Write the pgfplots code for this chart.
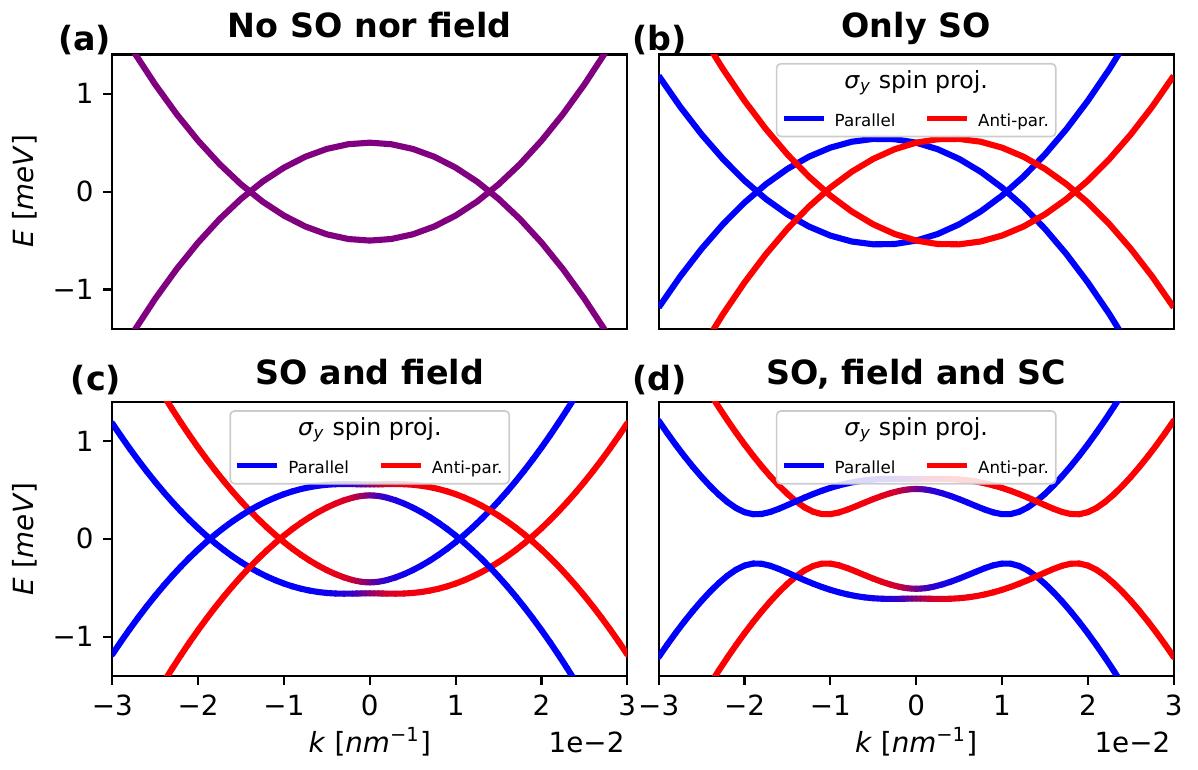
\documentclass[border=0pt]{standalone}
\usepackage{fontspec}
\setmainfont{DejaVu Sans}
\usepackage{pgfplots}
\pgfplotsset{compat=1.18}
\usepackage{pgfplotstable}
\definecolor{mplpurple}{rgb}{0.5,0,0.5}

\pgfplotstableread{
k g ng fb nfb fr nfr
-3.00 1.7950 -1.7950 1.1830 -1.1830 2.4070 -2.4070
-2.75 1.4284 -1.4284 0.8674 -0.8674 1.9894 -1.9894
-2.50 1.0938 -1.0938 0.5838 -0.5838 1.6038 -1.6038
-2.25 0.7909 -0.7909 0.3319 -0.3319 1.2499 -1.2499
-2.00 0.5200 -0.5200 0.1120 -0.1120 0.9280 -0.9280
-1.75 0.2809 -0.2809 -0.0761 0.0761 0.6379 -0.6379
-1.50 0.0738 -0.0738 -0.2323 0.2323 0.3798 -0.3798
-1.25 -0.1016 0.1016 -0.3566 0.3566 0.1534 -0.1534
-1.00 -0.2450 0.2450 -0.4490 0.4490 -0.0410 0.0410
-0.75 -0.3566 0.3566 -0.5096 0.5096 -0.2036 0.2036
-0.50 -0.4363 0.4363 -0.5383 0.5383 -0.3343 0.3343
-0.25 -0.4841 0.4841 -0.5351 0.5351 -0.4331 0.4331
0.00 -0.5000 0.5000 -0.5000 0.5000 -0.5000 0.5000
0.25 -0.4841 0.4841 -0.4331 0.4331 -0.5351 0.5351
0.50 -0.4363 0.4363 -0.3343 0.3343 -0.5383 0.5383
0.75 -0.3566 0.3566 -0.2036 0.2036 -0.5096 0.5096
1.00 -0.2450 0.2450 -0.0410 0.0410 -0.4490 0.4490
1.25 -0.1016 0.1016 0.1534 -0.1534 -0.3566 0.3566
1.50 0.0738 -0.0738 0.3798 -0.3798 -0.2323 0.2323
1.75 0.2809 -0.2809 0.6379 -0.6379 -0.0761 0.0761
2.00 0.5200 -0.5200 0.9280 -0.9280 0.1120 -0.1120
2.25 0.7909 -0.7909 1.2499 -1.2499 0.3319 -0.3319
2.50 1.0938 -1.0938 1.6038 -1.6038 0.5838 -0.5838
2.75 1.4284 -1.4284 1.9894 -1.9894 0.8674 -0.8674
3.00 1.7950 -1.7950 2.4070 -2.4070 1.1830 -1.1830
}\tab

\pgfplotstableread{
k cP cM ncP ncM dP dM ndP ndM mp mm
-3.0 2.4096 1.1804 -2.4096 -1.1804 2.4225 1.2066 -2.4225 -1.2066 -0.9958 0.9958
-2.9 2.2388 1.0503 -2.2388 -1.0503 2.2527 1.0797 -2.2527 -1.0797 -0.9955 0.9955
-2.8 2.0731 0.9253 -2.0731 -0.9253 2.0882 0.9584 -2.0882 -0.9584 -0.9952 0.9952
-2.7 1.9126 0.8053 -1.9126 -0.8053 1.9289 0.8432 -1.9289 -0.8432 -0.9949 0.9949
-2.6 1.7572 0.6905 -1.7572 -0.6905 1.7749 0.7343 -1.7749 -0.7343 -0.9945 0.9945
-2.5 1.6068 0.5807 -1.6068 -0.5807 1.6262 0.6322 -1.6262 -0.6322 -0.9940 0.9940
-2.4 1.4616 0.4760 -1.4616 -0.4760 1.4828 0.5377 -1.4828 -0.5377 -0.9935 0.9935
-2.3 1.3215 0.3764 -1.3215 -0.3764 1.3449 0.4519 -1.3449 -0.4519 -0.9930 0.9930
-2.2 1.1865 0.2819 -1.1865 -0.2819 1.2125 0.3768 -1.2125 -0.3768 -0.9923 0.9923
-2.1 1.0566 0.1925 -1.0566 -0.1925 1.0858 0.3155 -1.0858 -0.3155 -0.9916 0.9916
-2.0 0.9318 0.1082 -0.9318 -0.1082 0.9648 0.2724 -0.9648 -0.2724 -0.9907 0.9907
-1.9 0.8122 0.0289 -0.8122 -0.0289 0.8498 0.2517 -0.8498 -0.2517 -0.9897 0.9897
-1.8 0.6977 -0.0453 -0.6977 0.0453 0.7411 0.2541 -0.7411 -0.2541 -0.9886 0.9886
-1.7 0.5882 -0.1143 -0.5882 0.1143 0.6392 0.2749 -0.6392 -0.2749 -0.9872 0.9872
-1.6 0.4840 -0.1784 -0.4840 0.1784 0.5447 0.3071 -0.5447 -0.3071 -0.9856 0.9856
-1.5 0.3848 -0.2373 -0.3848 0.2373 0.4589 0.3447 -0.4589 -0.3447 -0.9837 0.9837
-1.4 0.2908 -0.2912 -0.2908 0.2912 0.3835 0.3838 -0.3835 -0.3838 -0.9813 0.9813
-1.3 0.2020 -0.3401 -0.2020 0.3401 0.3214 0.4221 -0.3214 -0.4221 -0.9784 0.9784
-1.2 0.1183 -0.3839 -0.1183 0.3839 0.2766 0.4581 -0.2766 -0.4581 -0.9748 0.9748
-1.1 0.0398 -0.4227 -0.0398 0.4227 0.2532 0.4911 -0.2532 -0.4911 -0.9702 0.9702
-1.0 -0.0335 -0.4566 0.0335 0.4566 0.2522 0.5205 -0.2522 -0.5205 -0.9643 0.9643
-0.9 -0.1015 -0.4854 0.1015 0.4854 0.2698 0.5460 -0.2698 -0.5460 -0.9565 0.9565
-0.8 -0.1643 -0.5093 0.1643 0.5093 0.2991 0.5674 -0.2991 -0.5674 -0.9459 0.9459
-0.7 -0.2217 -0.5284 0.2217 0.5284 0.3341 0.5846 -0.3341 -0.5846 -0.9310 0.9310
-0.6 -0.2736 -0.5428 0.2736 0.5428 0.3706 0.5976 -0.3706 -0.5976 -0.9093 0.9093
-0.5 -0.3199 -0.5526 0.3199 0.5526 0.4060 0.6065 -0.4060 -0.6065 -0.8766 0.8766
-0.4 -0.3602 -0.5582 0.3602 0.5582 0.4385 0.6116 -0.4385 -0.6116 -0.8245 0.8245
-0.3 -0.3941 -0.5600 0.3941 0.5600 0.4667 0.6133 -0.4667 -0.6133 -0.7377 0.7377
-0.2 -0.4205 -0.5591 0.4205 0.5591 0.4892 0.6124 -0.4892 -0.6124 -0.5889 0.5889
-0.15 -0.4305 -0.5581 0.4305 0.5581 0.4978 0.6115 -0.4978 -0.6115 -0.4795 0.4795
-0.1 -0.4379 -0.5571 0.4379 0.5571 0.5042 0.6106 -0.5042 -0.6106 -0.3423 0.3423
-0.05 -0.4424 -0.5563 0.4424 0.5563 0.5082 0.6099 -0.5082 -0.6099 -0.1792 0.1792
0.0 -0.4440 -0.5560 0.4440 0.5560 0.5095 0.6096 -0.5095 -0.6096 0.0 0.0
0.05 -0.4424 -0.5563 0.4424 0.5563 0.5082 0.6099 -0.5082 -0.6099 0.1792 -0.1792
0.1 -0.4379 -0.5571 0.4379 0.5571 0.5042 0.6106 -0.5042 -0.6106 0.3423 -0.3423
0.15 -0.4305 -0.5581 0.4305 0.5581 0.4978 0.6115 -0.4978 -0.6115 0.4795 -0.4795
0.2 -0.4205 -0.5591 0.4205 0.5591 0.4892 0.6124 -0.4892 -0.6124 0.5889 -0.5889
0.3 -0.3941 -0.5600 0.3941 0.5600 0.4667 0.6133 -0.4667 -0.6133 0.7377 -0.7377
0.4 -0.3602 -0.5582 0.3602 0.5582 0.4385 0.6116 -0.4385 -0.6116 0.8245 -0.8245
0.5 -0.3199 -0.5526 0.3199 0.5526 0.4060 0.6065 -0.4060 -0.6065 0.8766 -0.8766
0.6 -0.2736 -0.5428 0.2736 0.5428 0.3706 0.5976 -0.3706 -0.5976 0.9093 -0.9093
0.7 -0.2217 -0.5284 0.2217 0.5284 0.3341 0.5846 -0.3341 -0.5846 0.9310 -0.9310
0.8 -0.1643 -0.5093 0.1643 0.5093 0.2991 0.5674 -0.2991 -0.5674 0.9459 -0.9459
0.9 -0.1015 -0.4854 0.1015 0.4854 0.2698 0.5460 -0.2698 -0.5460 0.9565 -0.9565
1.0 -0.0335 -0.4566 0.0335 0.4566 0.2522 0.5205 -0.2522 -0.5205 0.9643 -0.9643
1.1 0.0398 -0.4227 -0.0398 0.4227 0.2532 0.4911 -0.2532 -0.4911 0.9702 -0.9702
1.2 0.1183 -0.3839 -0.1183 0.3839 0.2766 0.4581 -0.2766 -0.4581 0.9748 -0.9748
1.3 0.2020 -0.3401 -0.2020 0.3401 0.3214 0.4221 -0.3214 -0.4221 0.9784 -0.9784
1.4 0.2908 -0.2912 -0.2908 0.2912 0.3835 0.3838 -0.3835 -0.3838 0.9813 -0.9813
1.5 0.3848 -0.2373 -0.3848 0.2373 0.4589 0.3447 -0.4589 -0.3447 0.9837 -0.9837
1.6 0.4840 -0.1784 -0.4840 0.1784 0.5447 0.3071 -0.5447 -0.3071 0.9856 -0.9856
1.7 0.5882 -0.1143 -0.5882 0.1143 0.6392 0.2749 -0.6392 -0.2749 0.9872 -0.9872
1.8 0.6977 -0.0453 -0.6977 0.0453 0.7411 0.2541 -0.7411 -0.2541 0.9886 -0.9886
1.9 0.8122 0.0289 -0.8122 -0.0289 0.8498 0.2517 -0.8498 -0.2517 0.9897 -0.9897
2.0 0.9318 0.1082 -0.9318 -0.1082 0.9648 0.2724 -0.9648 -0.2724 0.9907 -0.9907
2.1 1.0566 0.1925 -1.0566 -0.1925 1.0858 0.3155 -1.0858 -0.3155 0.9916 -0.9916
2.2 1.1865 0.2819 -1.1865 -0.2819 1.2125 0.3768 -1.2125 -0.3768 0.9923 -0.9923
2.3 1.3215 0.3764 -1.3215 -0.3764 1.3449 0.4519 -1.3449 -0.4519 0.9930 -0.9930
2.4 1.4616 0.4760 -1.4616 -0.4760 1.4828 0.5377 -1.4828 -0.5377 0.9935 -0.9935
2.5 1.6068 0.5807 -1.6068 -0.5807 1.6262 0.6322 -1.6262 -0.6322 0.9940 -0.9940
2.6 1.7572 0.6905 -1.7572 -0.6905 1.7749 0.7343 -1.7749 -0.7343 0.9945 -0.9945
2.7 1.9126 0.8053 -1.9126 -0.8053 1.9289 0.8432 -1.9289 -0.8432 0.9949 -0.9949
2.8 2.0731 0.9253 -2.0731 -0.9253 2.0882 0.9584 -2.0882 -0.9584 0.9952 -0.9952
2.9 2.2388 1.0503 -2.2388 -1.0503 2.2527 1.0797 -2.2527 -1.0797 0.9955 -0.9955
3.0 2.4096 1.1804 -2.4096 -1.1804 2.4225 1.2066 -2.4225 -1.2066 0.9958 -0.9958
}\tcd

\pgfplotsset{
  panel/.style={
    scale only axis, width=185.4pt, height=98.7pt,
    xmin=-3, xmax=3, ymin=-1.4, ymax=1.4,
    axis line style={line width=0.8pt},
    tick style={black, line width=0.8pt},
    major tick length=3.24pt, tick align=outside,
    xtick pos=left, ytick pos=left,
    tick label style={font=\fontsize{10}{12}\selectfont},
    xtick={-3,-2,-1,0,1,2,3}, xticklabels={−3,−2,−1,0,1,2,3},
    ytick={-1,0,1}, yticklabels={−1,0,1},
    colormap={rb}{rgb=(1,0,0) rgb=(0,0,1)},
    point meta min=-1, point meta max=1,
  },
  band/.style={mesh, point meta=explicit, line width=2.2pt, line cap=round, line join=round},
  pline/.style={line width=2.2pt, line join=round},
}

\newcommand{\spinlegend}{%
  \node[draw=black!20, line width=0.6pt, rounded corners=1.5pt, fill=white, fill opacity=0.85, text opacity=1,
        anchor=north, inner xsep=2.5pt, inner ysep=2.5pt, align=center, yshift=-3pt]
    at (rel axis cs:0.5,1)
    {{\fontsize{8.5}{10}\selectfont\textit{σ}\textsubscript{\textit{y}} spin proj.}\\[1.5pt]
     {\fontsize{6}{7}\selectfont\textcolor{blue}{\rule[0.55ex]{14.4pt}{1.8pt}}\hspace{4pt}Parallel\hspace{11.4pt}\textcolor{red}{\rule[0.55ex]{14.4pt}{1.8pt}}\hspace{4pt}Anti-par.}};%
}

\begin{document}
\begin{tikzpicture}
\useasboundingbox (0,0) rectangle (431.28pt,276.84pt);

% (a)
\begin{axis}[panel, at={(40.43pt,158.51pt)}, anchor=south west, xtick=\empty]
\addplot[mplpurple, pline] table[x=k,y=g]{\tab};
\addplot[mplpurple, pline] table[x=k,y=ng]{\tab};
\end{axis}

% (b)
\begin{axis}[panel, at={(237.13pt,158.51pt)}, anchor=south west, xtick=\empty, ytick=\empty]
\addplot[blue, pline] table[x=k,y=fb]{\tab};
\addplot[blue, pline] table[x=k,y=nfb]{\tab};
\addplot[red, pline] table[x=k,y=fr]{\tab};
\addplot[red, pline] table[x=k,y=nfr]{\tab};
\spinlegend
\end{axis}

% (c)
\begin{axis}[panel, at={(40.43pt,33.5pt)}, anchor=south west]
\addplot[band] table[x=k,y=cP,meta=mp]{\tcd};
\addplot[band] table[x=k,y=cM,meta=mm]{\tcd};
\addplot[band] table[x=k,y=ncP,meta=mp]{\tcd};
\addplot[band] table[x=k,y=ncM,meta=mm]{\tcd};
\spinlegend
\end{axis}

% (d)
\begin{axis}[panel, at={(237.13pt,33.5pt)}, anchor=south west, ytick=\empty]
\addplot[band] table[x=k,y=dP,meta=mp]{\tcd};
\addplot[band] table[x=k,y=dM,meta=mm]{\tcd};
\addplot[band] table[x=k,y=ndP,meta=mp]{\tcd};
\addplot[band] table[x=k,y=ndM,meta=mm]{\tcd};
\spinlegend
\end{axis}

% titles
\begin{scope}[every node/.style={inner sep=0pt}]
\node[anchor=base, font=\bfseries\fontsize{12}{14}\selectfont] at (133.13pt,263.5pt) {No SO nor field};
\node[anchor=base, font=\bfseries\fontsize{12}{14}\selectfont] at (329.83pt,263.5pt) {Only SO};
\node[anchor=base, font=\bfseries\fontsize{12}{14}\selectfont] at (133.13pt,138.35pt) {SO and field};
\node[anchor=base, font=\bfseries\fontsize{12}{14}\selectfont] at (329.83pt,138.35pt) {SO, field and SC};
% panel labels
\node[anchor=base east, font=\bfseries\fontsize{12}{14}\selectfont] at (40.2pt,258.5pt) {(a)};
\node[anchor=base west, font=\bfseries\fontsize{12}{14}\selectfont] at (227.5pt,258.5pt) {(b)};
\node[anchor=base east, font=\bfseries\fontsize{12}{14}\selectfont] at (43.8pt,136.1pt) {(c)};
\node[anchor=base west, font=\bfseries\fontsize{12}{14}\selectfont] at (227.5pt,136.1pt) {(d)};
% axis labels
\node[rotate=90, font=\fontsize{10}{12}\selectfont] at (9pt,208.1pt) {\textit{E} [\textit{meV}]};
\node[rotate=90, font=\fontsize{10}{12}\selectfont] at (9pt,82.85pt) {\textit{E} [\textit{meV}]};
\node[anchor=base, font=\fontsize{10}{12}\selectfont] at (133.13pt,6.12pt) {\textit{k} [\textit{nm}\textsuperscript{−1}]};
\node[anchor=base, font=\fontsize{10}{12}\selectfont] at (329.83pt,6.12pt) {\textit{k} [\textit{nm}\textsuperscript{−1}]};
\node[anchor=base east, font=\fontsize{10}{12}\selectfont] at (225pt,5.9pt) {1e−2};
\node[anchor=base east, font=\fontsize{10}{12}\selectfont] at (421.5pt,5.9pt) {1e−2};
\end{scope}
\end{tikzpicture}
\end{document}
